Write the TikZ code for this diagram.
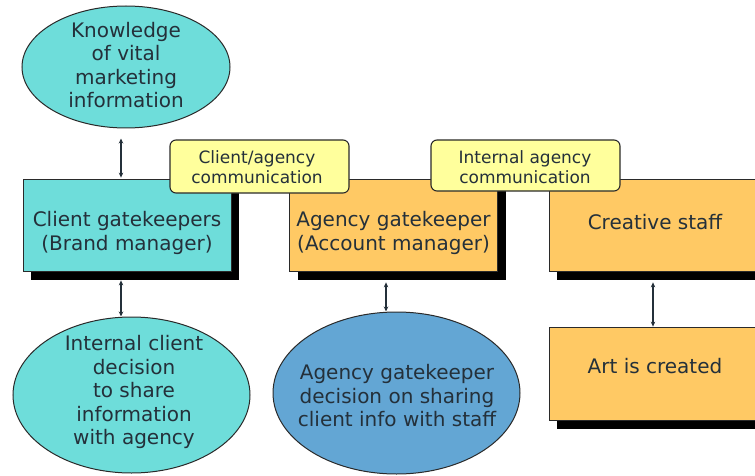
\documentclass[tikz,border=0pt]{standalone}
\usepackage{fontspec}
\setmainfont{DejaVu Sans}
\usetikzlibrary{shapes.geometric,shadows,arrows.meta}

\definecolor{cyanfill}{HTML}{6EDDDA}
\definecolor{orangefill}{HTML}{FFC964}
\definecolor{bluefill}{HTML}{63A6D4}
\definecolor{notefill}{HTML}{FFFF9C}
\definecolor{ink}{HTML}{24303A}
\definecolor{edge}{HTML}{2A2A2A}

\tikzset{
  oval/.style={ellipse, draw=edge, line width=1pt, inner sep=0pt},
  stage/.style={rectangle, draw=edge, line width=0.8pt, inner sep=0pt,
    minimum width=208pt, minimum height=92pt,
    drop shadow={shadow xshift=8pt, shadow yshift=-9pt, fill=black, opacity=1}},
  note/.style={rectangle, rounded corners=6pt, draw=edge, line width=1.1pt,
    fill=notefill, inner sep=0pt},
  label/.style={text=ink, align=center, inner sep=0pt,
    font=\fontsize{20}{23.5}\selectfont},
  notelabel/.style={text=ink, align=center, inner sep=0pt,
    font=\fontsize{17}{20}\selectfont},
  conn/.style={draw=ink, line width=1.1pt,
    arrows={Stealth[length=5pt,width=4.5pt]-Stealth[length=5pt,width=4.5pt]}}
}

\begin{document}
\begin{tikzpicture}[x=1pt,y=-1pt]
\useasboundingbox (0,0) rectangle (755,476);
\clip (0,0) rectangle (755,476);

% connector columns
\coordinate (colA) at (121,0);
\coordinate (colB) at (386,0);
\coordinate (colC) at (653,0);

% ovals
\node[oval, fill=cyanfill, minimum width=208pt, minimum height=122pt] (know) at (126,67) {};
\node[label] (knowtxt) at (126,65) {Knowledge\\of vital\\marketing\\information};

\node[oval, fill=cyanfill, minimum width=237pt, minimum height=156pt] (icd) at (131.5,395) {};
\node[label] (icdtxt) at (134,392) {Internal client\\decision\\to share\\information\\with agency};

\node[oval, fill=bluefill, minimum width=247pt, minimum height=162pt] (agd) at (396.5,393) {};
\node[label] (agdtxt) at (397,396) {Agency gatekeeper\\decision on sharing\\client info with staff};

% stage boxes
\node[stage, fill=cyanfill] (cg) at (127,225) {};
\node[label] (cgtxt) at (127,233) {Client gatekeepers\\(Brand manager)};

\node[stage, fill=orangefill] (ag) at (393.5,225) {};
\node[label] (agtxt) at (393.5,233) {Agency gatekeeper\\(Account manager)};

\node[stage, fill=orangefill] (cs) at (653,225) {};
\node[label] (cstxt) at (655,222.5) {Creative staff};

\node[stage, fill=orangefill, minimum height=93pt] (art) at (653,373.5) {};
\node[label] (arttxt) at (655,366.5) {Art is created};

% communication notes
\node[note, minimum width=179pt, minimum height=53pt] (cl) at (259.5,166.5) {};
\node[notelabel] (cltxt) at (257,166.8) {Client/agency\\communication};

\node[note, minimum width=189pt, minimum height=51pt] (ia) at (525.5,165.5) {};
\node[notelabel] (iatxt) at (525,166.8) {Internal agency\\communication};

% connectors
\draw[conn, shorten <=10pt, shorten >=1pt] (know.south -| colA) -- (cg.north -| colA);
\draw[conn, shorten <=9pt] (cg.south -| colA) -- (icd.north -| colA);
\draw[conn, shorten <=11pt] (ag.south -| colB) -- (agd.north -| colB);
\draw[conn, shorten <=11pt] (cs.south -| colC) -- (art.north -| colC);
\end{tikzpicture}
\end{document}
